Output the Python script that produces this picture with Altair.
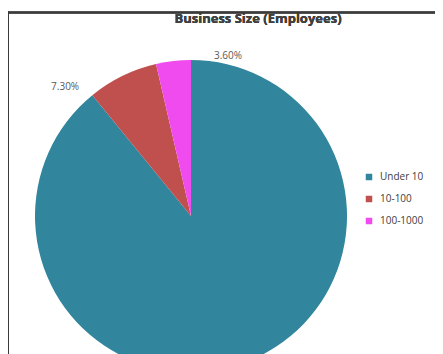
import altair as alt
import pandas as pd

categories = ["Under 10", "10-100", "100-1000"]
shares = [89.1, 7.3, 3.6]
labels = ["89.10%", "7.30%", "3.60%"]
colors = ["#31859C", "#C0504D", "#F04BEF"]
order = [0, 1, 2]
title_text = "Business Size (Employees)"

df = pd.DataFrame({"cat": categories, "share": shares, "label": labels, "ord": order})

W, H = 427, 346
CX, CY, R = 183, 208, 156

color = alt.Color(
    "cat:N",
    scale=alt.Scale(domain=categories, range=colors),
    sort=categories,
    legend=alt.Legend(
        title=None,
        orient="none",
        legendX=356,
        legendY=164,
        symbolType="square",
        symbolSize=42,
        symbolStrokeWidth=0,
        labelFontSize=10,
        labelColor="#404040",
        labelFont="Open Sans",
        rowPadding=12,
        padding=0,
        labelOffset=6,
    ),
)

pie = alt.Chart(df).mark_arc(radius=R, clip=True).encode(
    theta=alt.Theta("share:Q", stack=True),
    order=alt.Order("ord:Q"),
    color=color,
    x=alt.value(CX),
    y=alt.value(CY),
)

lab_base = alt.Chart(df).transform_window(
    cum="sum(share)", sort=[alt.SortField("ord")]
).transform_calculate(
    mid="datum.cum - datum.share / 2"
)


def label_layer(cat, dx, dy):
    return lab_base.transform_filter(alt.datum.cat == cat).mark_text(
        fontSize=10, color="#595959", font="Open Sans", dx=dx, dy=dy
    ).encode(
        theta=alt.Theta("mid:Q", scale=alt.Scale(domain=[0, 100]), stack=False),
        radius=alt.value(R + 12),
        text="label:N",
        x=alt.value(CX),
        y=alt.value(CY),
    )


lab_magenta = label_layer("100-1000", 56, 7)
lab_red = label_layer("10-100", -52, 22)

title = alt.Chart(df).mark_text(
    fontSize=13, fontWeight="bold", color="#404040", font="Open Sans", baseline="alphabetic"
).encode(
    x=alt.value(250), y=alt.value(15), text=alt.value(title_text)
)

frame_top = alt.Chart(df).mark_rule(color="#3a3a3a", strokeWidth=2).encode(
    x=alt.value(0), x2=alt.value(W), y=alt.value(4.5)
)
frame_left = alt.Chart(df).mark_rule(color="#3a3a3a", strokeWidth=2).encode(
    x=alt.value(0), y=alt.value(3.5), y2=alt.value(H)
)

chart = alt.layer(pie, lab_magenta, lab_red, title, frame_top, frame_left).properties(
    width=W, height=H, padding=0, autosize=alt.AutoSizeParams(type="none"),
    background="white",
).configure_view(stroke=None)

chart.save("out.html", embed_options={"renderer": "svg", "actions": False})
